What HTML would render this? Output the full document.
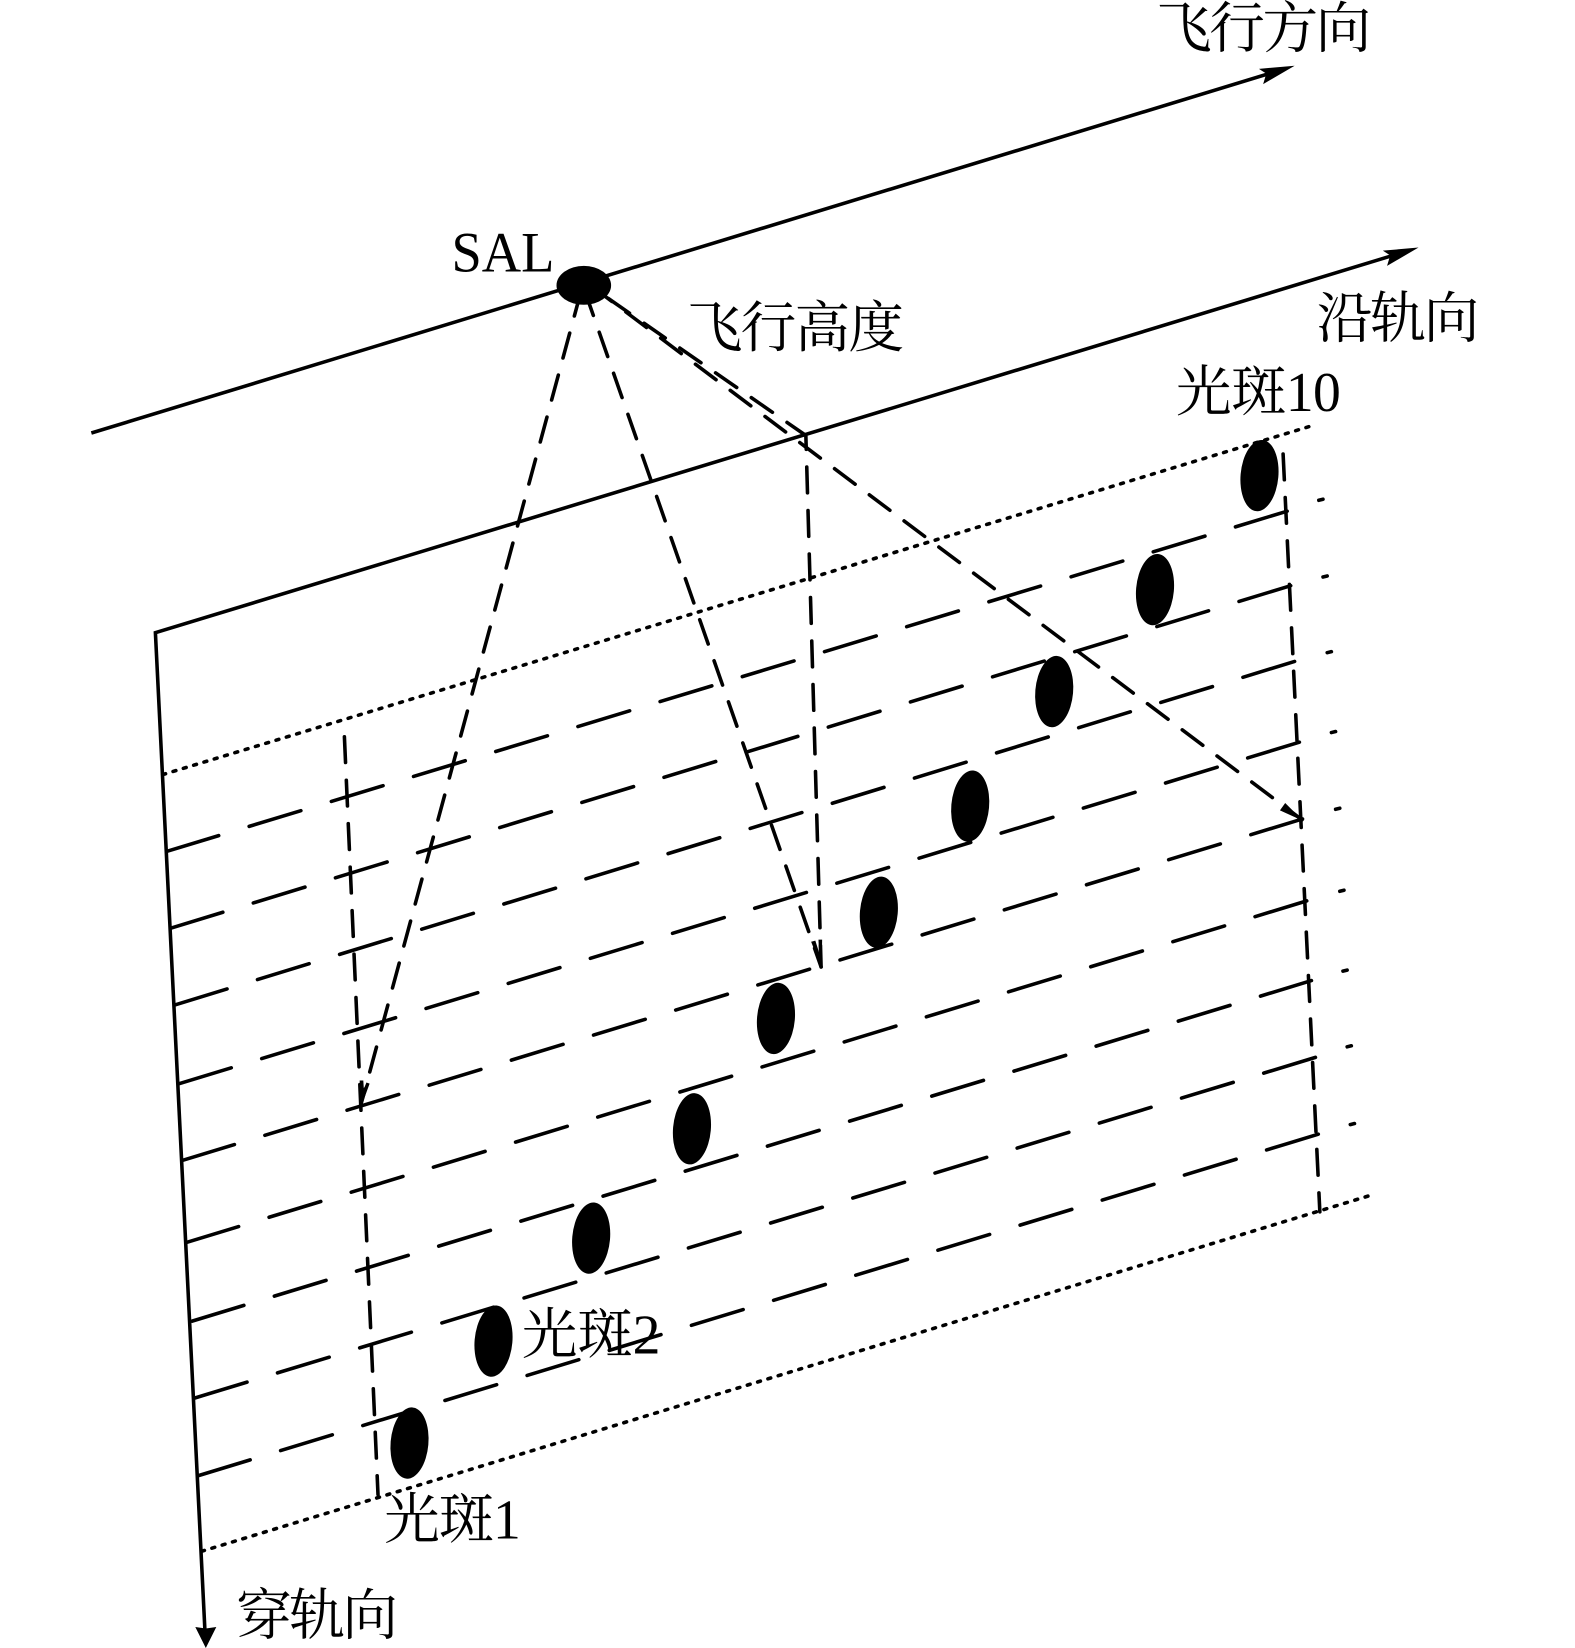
<!DOCTYPE html>
<html><head><meta charset="utf-8"><style>
html,body{margin:0;padding:0;background:#fff}
svg{display:block}
text{font-family:"Liberation Serif","Noto Serif CJK SC",serif;font-size:53px;fill:#000}
</style></head><body>
<svg width="1575" height="1648" viewBox="0 0 1500 1568" preserveAspectRatio="none" xmlns="http://www.w3.org/2000/svg">
<g fill="none" stroke="#000" stroke-width="3.4">
<line x1="87" y1="412" x2="1212" y2="69"/>
<polyline points="1330,242 148,602 195.2,1552"/>
</g>
<g fill="#000">
<polygon points="1233,62.5 1203,80 1206,70 1199,65.5"/>
<polygon points="1351,235.5 1321,253 1324,243 1317,238.5"/>
<polygon points="196,1568 186,1548 196,1549.5 206,1548"/>
</g>
<g fill="none" stroke="#000" stroke-width="3.4" stroke-linecap="round" stroke-dasharray="51.5 30.3">
<line x1="159" y1="810" x2="1227" y2="486"/>
<line x1="163" y1="883" x2="1230" y2="557"/>
<line x1="167" y1="956" x2="1234" y2="629"/>
<line x1="171" y1="1031" x2="1238" y2="706"/>
<line x1="174" y1="1104" x2="1241" y2="779"/>
<line x1="178" y1="1182" x2="1245" y2="857"/>
<line x1="183" y1="1257" x2="1249" y2="933"/>
<line x1="186" y1="1330" x2="1253" y2="1006"/>
<line x1="189" y1="1404" x2="1256" y2="1079"/>
</g>
<g stroke="#000" stroke-width="3.4" stroke-linecap="round">
<line x1="1256" y1="476" x2="1260" y2="475"/>
<line x1="1260" y1="549" x2="1264" y2="548"/>
<line x1="1264" y1="621" x2="1268" y2="620"/>
<line x1="1268" y1="697" x2="1272" y2="696"/>
<line x1="1272" y1="770" x2="1276" y2="769"/>
<line x1="1276" y1="848" x2="1280" y2="847"/>
<line x1="1279" y1="924" x2="1283" y2="923"/>
<line x1="1283" y1="996" x2="1287" y2="995"/>
<line x1="1286" y1="1070" x2="1290" y2="1069"/>
</g>
<g fill="none" stroke="#000" stroke-width="3.4" stroke-dasharray="2.8 7.45" stroke-linecap="round">
<line x1="155" y1="737" x2="1253" y2="404"/>
<line x1="192" y1="1476" x2="1303" y2="1138"/>
</g>
<g fill="none" stroke="#000" stroke-width="3.4" stroke-dasharray="24.5 16.9" stroke-linecap="round">
<line x1="328" y1="701" x2="360" y2="1422"/>
<line x1="1222" y1="432" x2="1257" y2="1153"/>
<line x1="553.4" y1="277" x2="344" y2="1050"/>
<line x1="557" y1="277" x2="782" y2="920"/>
<line x1="563" y1="272" x2="1240" y2="780"/>
<line x1="579.4" y1="284" x2="767" y2="414"/>
<line x1="767.5" y1="415" x2="782" y2="920" stroke-dashoffset="12"/>
</g>
<g fill="#000">
<polygon points="344.4,1052 342.5,1028 346,1028 346.5,1036 349,1030 352,1031"/>
<polygon points="782.5,921 772.5,896 776.5,895 780,906 779.5,894 783,894"/>
<polygon points="1241,781 1219,771 1224,764"/>
</g>
<ellipse cx="556" cy="271.5" rx="26" ry="18.5" fill="#000"/>
<g fill="#000">
<ellipse cx="390" cy="1373" rx="18" ry="34" transform="rotate(5 390 1373)"/>
<ellipse cx="470" cy="1276" rx="18" ry="34" transform="rotate(5 470 1276)"/>
<ellipse cx="563" cy="1178" rx="18" ry="34" transform="rotate(5 563 1178)"/>
<ellipse cx="659" cy="1074" rx="18" ry="34" transform="rotate(5 659 1074)"/>
<ellipse cx="739" cy="969" rx="18" ry="34" transform="rotate(5 739 969)"/>
<ellipse cx="837" cy="868" rx="18" ry="34" transform="rotate(5 837 868)"/>
<ellipse cx="924" cy="767" rx="18" ry="34" transform="rotate(5 924 767)"/>
<ellipse cx="1004" cy="658" rx="18" ry="34" transform="rotate(5 1004 658)"/>
<ellipse cx="1100" cy="561" rx="18" ry="34" transform="rotate(5 1100 561)"/>
<ellipse cx="1199.5" cy="452.5" rx="18" ry="34" transform="rotate(5 1199.5 452.5)"/>
</g>
<text x="1101" y="45" textLength="205">飞行方向</text>
<text x="1254" y="321" textLength="155">沿轨向</text>
<text x="1120" y="391" textLength="157">光斑10</text>
<text x="654" y="330" textLength="207">飞行高度</text>
<text x="430" y="258.5" textLength="98" lengthAdjust="spacingAndGlyphs" style="font-size:54px">SAL</text>
<text x="497" y="1288" textLength="132">光斑2</text>
<text x="366" y="1464" textLength="130">光斑1</text>
<text x="225" y="1555" textLength="154">穿轨向</text>
</svg>
</body></html>
